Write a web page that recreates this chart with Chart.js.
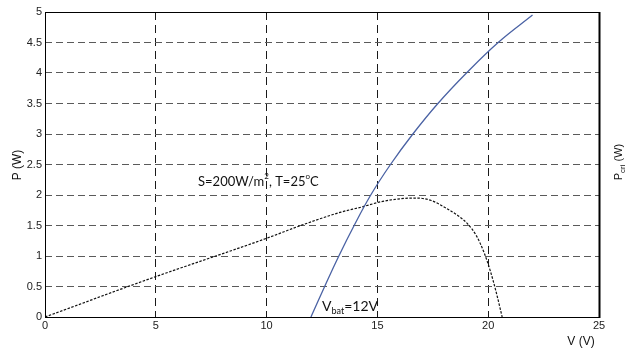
<!DOCTYPE html>
<html>
<head>
<meta charset="utf-8">
<script src="https://cdn.jsdelivr.net/npm/chart.js@4.4.0/dist/chart.umd.min.js"></script>
<style>
    body { margin: 0; background: #fff; }
    #wrap { width: 631px; height: 351px; position: relative; }
</style>
</head>
<body>
<div id="wrap"><canvas id="pvChart"></canvas></div>
<script>
// PV panel curve (blue) and critical power curve (black dotted)
const blueV = [12.0, 12.62, 13.26, 13.95, 14.7, 15.59, 16.6, 17.73, 19.02, 20.45, 22.0];
const blueP = [0, 0.5, 1.0, 1.5, 2.0, 2.5, 3.0, 3.5, 4.0, 4.5, 4.95];
const blackV = [0, 4.75, 10, 11.54, 13.36, 14.26, 15.17, 16.07, 16.83, 17.43, 18.03, 18.64, 19.09, 19.47, 19.82, 20.1, 20.33, 20.5, 20.63];
const blackP = [0, 0.63, 1.29, 1.50, 1.72, 1.80, 1.89, 1.94, 1.95, 1.91, 1.80, 1.66, 1.52, 1.33, 1.05, 0.75, 0.45, 0.2, 0];
const xTicks = [0, 5, 10, 15, 20, 25];
const yTicks = [0, 0.5, 1, 1.5, 2, 2.5, 3, 3.5, 4, 4.5, 5];

const toPts = (xs, ys) => xs.map((x, i) => ({ x: x, y: ys[i] }));

// labels, subscripts and the solid frame
const decor = {
    id: 'decor',
    afterDraw(chart) {
        const ctx = chart.ctx;
        const a = chart.chartArea;
        ctx.save();
        ctx.strokeStyle = '#000';
        ctx.lineWidth = 1;
        ctx.strokeRect(a.left + 0.5, a.top + 0.5, a.right - a.left, a.bottom - a.top);
        ctx.lineWidth = 2;
        ctx.beginPath();
        ctx.moveTo(a.right + 0.5, a.top);
        ctx.lineTo(a.right + 0.5, a.bottom + 1);
        ctx.stroke();

        ctx.fillStyle = '#111';
        ctx.textBaseline = 'alphabetic';
        ctx.textAlign = 'left';
        const big = '13px Lato, "Liberation Sans", sans-serif';
        const sup = '8px Lato, "Liberation Sans", sans-serif';
        // S=200W/m², T=25°C
        let x = 198, y = 186;
        ctx.font = big;
        ctx.fillText('S=200W/m', x, y);
        x += ctx.measureText('S=200W/m').width;
        ctx.font = sup;
        ctx.fillText('2', x, y - 7);
        x += ctx.measureText('2').width;
        ctx.font = big;
        ctx.fillText(', T=25', x, y);
        x += ctx.measureText(', T=25').width;
        ctx.font = sup;
        ctx.fillText('o', x, y - 7);
        x += ctx.measureText('o').width;
        ctx.font = big;
        ctx.fillText('C', x, y);

        // Vbat=12V
        x = 322; y = 311;
        ctx.font = '14px Lato, "Liberation Sans", sans-serif';
        ctx.fillText('V', x, y);
        x += ctx.measureText('V').width;
        ctx.font = '9px Lato, "Liberation Sans", sans-serif';
        ctx.fillText('bat', x, y + 3);
        x += ctx.measureText('bat').width;
        ctx.font = '14px Lato, "Liberation Sans", sans-serif';
        ctx.fillText('=12V', x, y);

        // axis titles
        ctx.font = '12px "Liberation Sans", Arial, sans-serif';
        ctx.textAlign = 'center';
        ctx.fillText('V (V)', 581, 345);

        ctx.save();
        ctx.translate(21, 165);
        ctx.rotate(-Math.PI / 2);
        ctx.fillText('P (W)', 0, 0);
        ctx.restore();

        ctx.save();
        ctx.translate(622, 162);
        ctx.rotate(-Math.PI / 2);
        ctx.textAlign = 'left';
        ctx.font = '11px "Liberation Sans", Arial, sans-serif';
        let w = ctx.measureText('P').width;
        ctx.font = '8px "Liberation Sans", Arial, sans-serif';
        w += ctx.measureText('cri').width;
        ctx.font = '11px "Liberation Sans", Arial, sans-serif';
        w += ctx.measureText(' (W)').width;
        let px = -w / 2;
        ctx.fillText('P', px, 0);
        px += ctx.measureText('P').width;
        ctx.font = '8px "Liberation Sans", Arial, sans-serif';
        ctx.fillText('cri', px, 3);
        px += ctx.measureText('cri').width;
        ctx.font = '11px "Liberation Sans", Arial, sans-serif';
        ctx.fillText(' (W)', px, 0);
        ctx.restore();
        ctx.restore();
    }
};

new Chart(document.getElementById('pvChart'), {
    type: 'scatter',
    data: {
        datasets: [{
            data: toPts(blueV, blueP),
            showLine: true,
            borderColor: '#4a62a4',
            borderWidth: 1.3,
            pointRadius: 0,
            tension: 0.4
        }, {
            data: toPts(blackV, blackP),
            showLine: true,
            borderColor: '#111',
            borderWidth: 1.2,
            borderDash: [2.5, 1.5],
            pointRadius: 0,
            cubicInterpolationMode: 'monotone'
        }]
    },
    options: {
        responsive: true,
        maintainAspectRatio: false,
        animation: false,
        layout: { padding: { top: 12, right: 32, left: 0, bottom: 0 } },
        plugins: { legend: { display: false }, tooltip: { enabled: false } },
        scales: {
            x: {
                type: 'linear',
                min: 0, max: 25,
                afterBuildTicks: s => { s.ticks = xTicks.map(v => ({ value: v })); },
                afterFit: s => { s.height = 34; },
                ticks: { color: '#222', padding: 2, font: { family: '"Liberation Sans", Arial', size: 11 }, callback: v => String(v) },
                grid: {
                    drawTicks: false,
                    color: c => (c.tick.value === 0 || c.tick.value === 25) ? 'rgba(0,0,0,0)' : '#1a1a1a'
                },
                border: { display: false, dash: [8, 5] }
            },
            y: {
                min: 0, max: 5,
                afterBuildTicks: s => { s.ticks = yTicks.map(v => ({ value: v })); },
                afterFit: s => { s.width = 45; },
                ticks: { color: '#222', padding: 3, font: { family: '"Liberation Sans", Arial', size: 11 }, callback: v => String(v) },
                grid: {
                    drawTicks: false,
                    color: c => (c.tick.value === 0 || c.tick.value === 5) ? 'rgba(0,0,0,0)' : '#5a5a5a'
                },
                border: { display: false, dash: [7, 4] }
            }
        }
    },
    plugins: [decor]
});
</script>
</body>
</html>
